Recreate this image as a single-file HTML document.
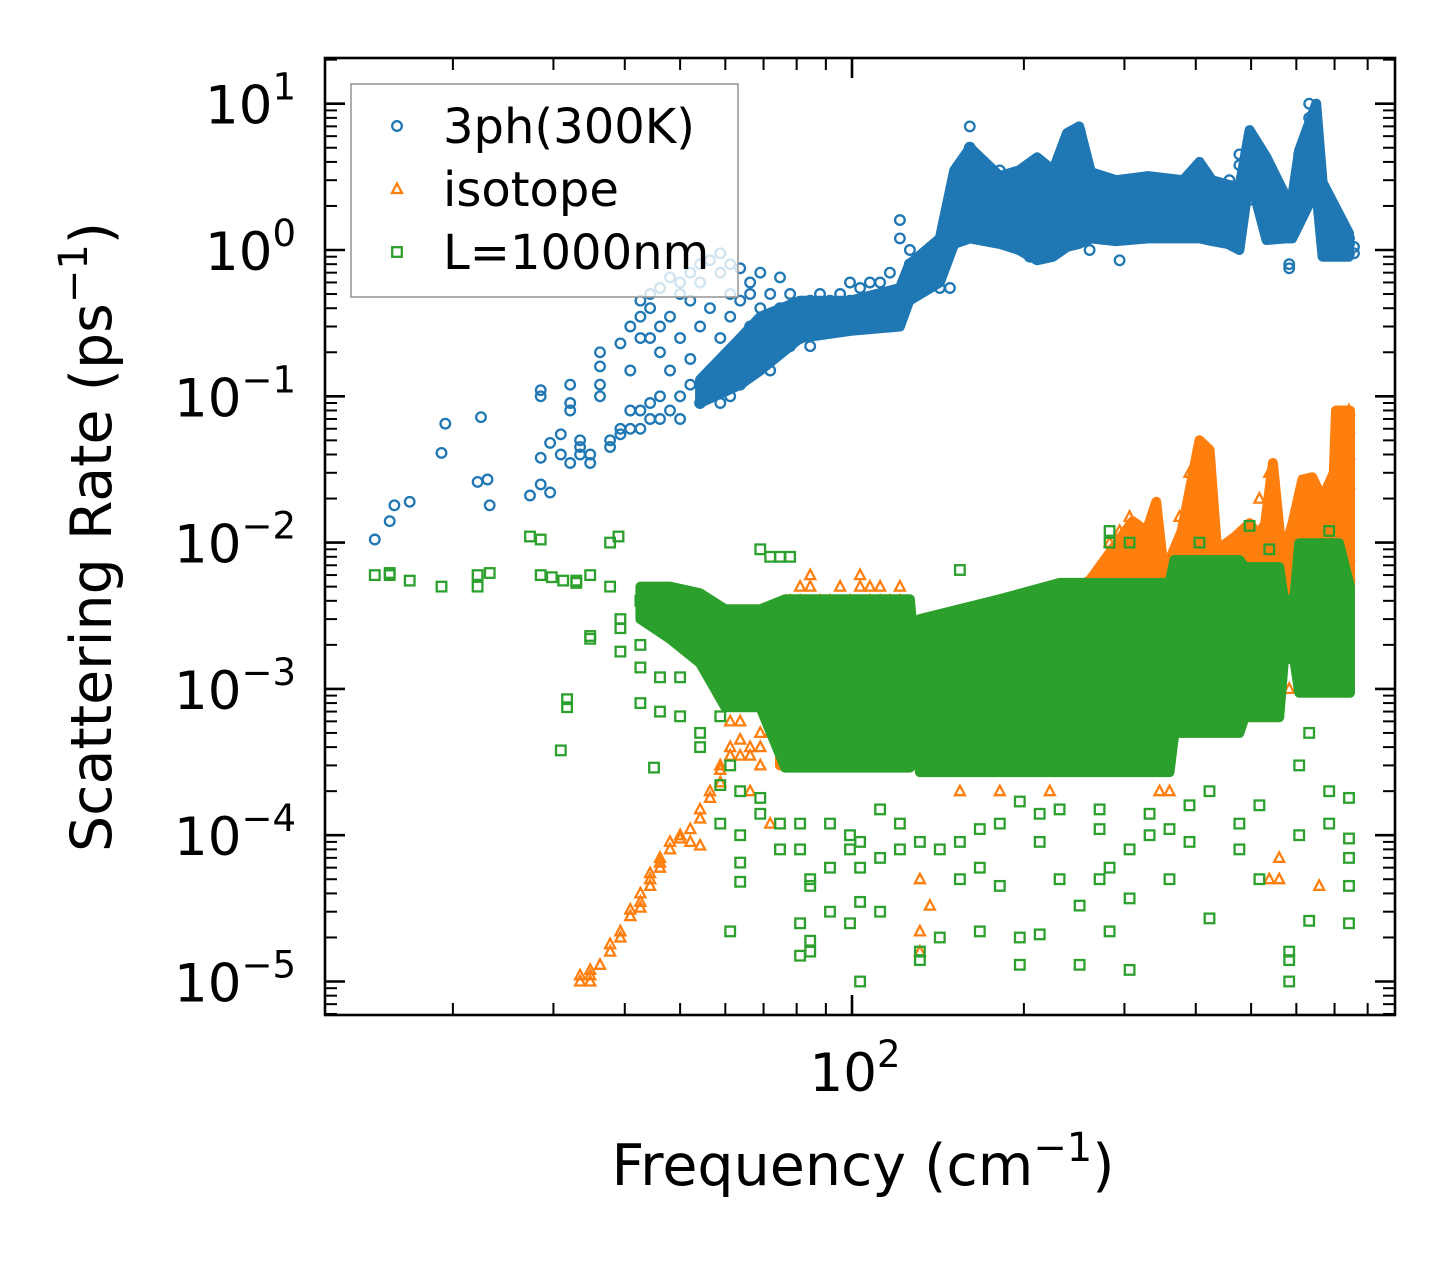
<!DOCTYPE html>
<html><head><meta charset="utf-8"><style>
html,body{margin:0;padding:0;background:#fff;}
svg{display:block;font-family:"DejaVu Sans","Liberation Sans",sans-serif;}
</style></head><body>
<svg id="chart" xmlns="http://www.w3.org/2000/svg" width="1455" height="1265" viewBox="0 0 1455 1265">
<rect x="0" y="0" width="1455" height="1265" fill="#fff"/>
<g id="plot"></g>
<g id="axes"></g>
<g id="legend"></g>
</svg>
<script>
// ---------- axis setup ----------
const xMajorTicks = [100];
const xMinorTicks = [20,30,40,50,60,70,80,90,200,300,400,500,600,700,800];
const yMajorExps = [1,0,-1,-2,-3,-4,-5];

// ---------- 3ph(300K): sparse points ----------
const ph3LowF = [14.6,15.5,15.8,16.8,19.1,19.4,22.1,22.4,23.0,23.2];
const ph3LowR = [0.0105,0.014,0.018,0.019,0.041,0.065,0.026,0.072,0.027,0.018];
// 3ph columns: frequency -> rates
const ph3F = [27.3,28.5,29.6,30.9,32.1,33.4,34.8,36.2,37.7,39.3,40.9,42.6,44.3,46.1,48.0,50.0,52.1,54.2,56.4,58.8,61.2,63.7,66.3,69.1,71.9,74.8,77.9,81.1,84.5,87.9,91.5,95.3,99.2,103.3,107.5,112,116.5,121.3,126.3,131.5,136.9,142.5,148.4,154.5,160.8,167.4,174.3,181.5,188.9,196.7,204.8,213.2,222,231,240.5,250.4,260.7,271.4,282.6,294.2,306.3,318.9,332,345.6,359.8,374.6,390,406,422.7,440,458,477,497,517,538,560,583,607,632,658,685,713,742,757];
const ph3R = [[0.021],[0.11,0.1,0.038,0.025],[0.048,0.022],[0.055,0.04],[0.12,0.09,0.08,0.035],[0.045,0.04,0.05],[0.035,0.04],[0.2,0.16,0.12,0.1],[0.05,0.045],[0.23,0.055,0.06],[0.15,0.3,0.06,0.08],[0.35,0.25,0.08,0.06,0.45],[0.5,0.4,0.09,0.07,0.25],[0.3,0.55,0.07,0.2,0.1],[0.65,0.15,0.35,0.08],[0.6,0.07,0.25,0.5,0.1],[0.7,0.12,0.18,0.45],[0.8,0.09,0.3,0.6,0.12],[0.15,0.85,0.4,0.1],[0.95,0.12,0.25,0.7,0.09],[0.1,0.5,0.13,0.35,0.8],[0.15,0.75,0.12,0.2,0.45],[0.14,0.3,0.6,0.17,0.5],[0.17,0.25,0.4,0.7,0.2],[0.2,0.5,0.22,0.3,0.15],[0.25,0.4,0.65,0.2,0.3],[0.28,0.35,0.5,0.22],[0.3,0.42,0.28,0.38,0.25],[0.3,0.45,0.33,0.22],[0.4,0.3,0.5,0.35],[0.35,0.28,0.45,0.3],[0.4,0.32,0.28,0.5],[0.45,0.3,0.35,0.6],[0.55,0.35,0.3,0.45],[0.4,0.6,0.35,0.3],[0.32,0.45,0.6,0.38],[0.38,0.5,0.3,0.7],[0.4,0.5,1.2,1.6,0.35],[0.6,0.8,1.0,0.5],[0.75,0.55,0.9],[0.9,0.7,0.6],[1.0,0.8,0.7,0.55],[1.3,0.55,2.0,1.6,1.0],[2.5,1.5,3.5,2.0,1.2],[7.0,5.0,2.0,1.4,3.0],[2.2,1.6,3.0,1.3,2.6],[2.5,3.2,2.0,1.5,1.2],[2.8,1.8,1.5,2.3,3.5],[2.2,3.0,1.6,1.3],[2.0,2.6,1.2,3.2,1.7],[1.7,2.4,3.0,0.9],[1.9,2.5,3.0,1.5],[3.5,2.2,1.7,2.8],[4.0,2.3,1.8,3.0],[6.0,5.0,2.5,1.9],[6.5,3.0,1.8,2.4],[2.5,2.0,1.0,2.9],[2.8,2.2,1.7,1.4],[2.4,3.0,1.8,2.0],[0.85,2.0,2.6,1.6],[1.9,2.3,2.8,1.5],[2.8,1.8,2.2,2.5],[2.2,2.5,1.8,2.9],[2.0,2.4,1.7,2.8],[1.9,2.6,2.2],[2.2,2.0,2.7,1.8],[2.5,1.9,2.2],[2.3,2.8,1.8,2.0],[2.1,2.5,1.9],[2.0,2.6,2.3],[3.0,2.4,2.0],[4.5,3.8,2.6,2.1],[6.0,5.5,3.2,2.2],[3.5,2.5,2.0],[1.8,2.2,2.0],[2.0,1.6,2.3],[1.4,0.8,0.75,1.8],[2.5,3.5,4.5,2.0],[6.0,8.0,10.0,3.0],[2.0,1.8,2.5],[1.5,1.3,1.8],[1.0,1.1,1.4],[0.95,1.1,1.2],[1.05,0.95]];
// 3ph dense core envelope
const ph3CoreF = [54.2,63.7,69.1,81.1,99.2,121.3,126,142.5,151,161,181.5,196,211,225,238,250,262,290,330,380,406,427,455,477,497,532,576,590,607,650,667,742];
const ph3CoreLo = [0.09,0.12,0.15,0.25,0.28,0.3,0.45,0.6,1.1,1.2,1.1,1.0,0.85,0.9,1.05,1.1,1.2,1.15,1.2,1.2,1.2,1.15,1.1,1.0,3.2,1.17,1.2,1.2,1.5,2.6,0.9,0.9];
const ph3CoreHi = [0.13,0.25,0.35,0.45,0.45,0.55,0.8,1.2,3.5,5,3.2,3.5,4.3,3.5,6.3,7,3.4,3.0,3.2,3.0,4.0,3.0,2.8,2.7,6.6,4.3,2.3,2.3,4.8,10,2.9,1.3];

// ---------- isotope ----------
const isoF = [33.4,34.8,36.2,37.7,39.3,40.9,42.6,44.3,46.1,48.0,50.0,52.1,54.2,56.4,58.8,61.2,63.7,66.3,69.1,71.9,74.8,77.9,81.1,84.5,87.9,91.5,95.3,99.2,103.3,107.5,112,116.5,121.3,126.3,131.5,136.9,154.5,181.5,222,260.7,282.6,294.2,306.3,318.9,345.6,359.8,374.6,390,406,422.7,440,497,517,538,560,583,607,632,658,685,713,742];
const isoR = [[1.1e-5,1.0e-5],[1.2e-5,1.0e-5,1.1e-5],[1.3e-5],[1.6e-5,1.8e-5],[2.2e-5,2.0e-5],[2.8e-5,3.1e-5],[3.5e-5,4.0e-5,3.2e-5],[5e-5,5.5e-5,4.5e-5],[6.5e-5,7e-5,6e-5],[8e-5,9e-5],[9.5e-5,1.0e-4],[1.1e-4,9e-5],[1.3e-4,1.5e-4,8.5e-5],[1.8e-4,2e-4],[2.3e-4,2.8e-4,3e-4],[3.5e-4,4e-4,6e-4],[3.5e-4,4.5e-4,1e-3,6e-4],[3.5e-4,4e-4,1.2e-3,2e-4],[4e-4,5e-4,1.5e-3,3e-4],[1.2e-4,1e-3,2e-3,5e-4],[2e-3,3e-3,1e-3],[3e-3,4e-3,2e-3],[4e-3,5e-3,3e-3],[5e-3,6e-3,3e-3],[4e-3,3e-3,2e-3],[3e-3,4e-3],[3e-3,2e-3,5e-3],[4e-3,3e-3],[5e-3,6e-3,3e-3],[5e-3,4e-3],[3e-3,5e-3,4e-3],[4e-3,3.5e-3,2e-3],[5e-3,4e-3,3e-3],[3e-3,2e-3,1e-3],[5e-5,2.2e-5,1.6e-5],[3.3e-5],[3e-4,2e-4],[2e-4,3e-4],[5e-4,2e-4],[3e-4],[4e-3,6e-3,1e-2],[8e-3,1.2e-2,5e-3],[1e-2,6e-3,1.5e-2,4e-3],[8e-3,5e-3],[3e-4,2e-4,5e-4],[5e-4,2e-4],[1e-2,1.5e-2,7e-3],[2e-2,3e-2,1.2e-2,8e-3],[4e-2,3e-2,1.5e-2,6e-3],[2e-2,1e-2,5e-3],[4e-3,3e-3],[1e-2,8e-3],[2e-2,1.2e-2,6e-3],[3e-2,1.5e-2,8e-3,5e-5],[5e-5,7e-5],[6e-3,3e-3,1e-3],[1.5e-2,8e-3,3e-3],[2.5e-2,1.8e-2,1e-2],[1.5e-2,2e-2,4.5e-5],[2e-2,1.2e-2],[2.5e-2,4e-2,3e-2],[8e-2,6e-2,4e-2,2.5e-2,8e-3,6e-3]];
const isoCoreF = [74.8,81.1,87.9,103.3,121.3,127,260.7,310,328,341,352,378,406,423,436,469,497,524,546,567,591,615,640,666,698,704,745];
const isoCoreLo = [3e-4,5e-4,5e-4,5e-4,5e-4,5e-4,2e-3,2e-3,2e-3,2e-3,2e-3,2e-3,2e-3,2e-3,2e-3,2e-3,2e-3,2e-3,2e-3,2e-3,2e-3,2e-3,2e-3,2e-3,3e-3,3e-3,3e-3];
const isoCoreHi = [2e-3,4e-3,3e-3,4e-3,4e-3,1.5e-3,5.5e-3,1.4e-2,1.2e-2,1.9e-2,6.2e-3,1.2e-2,5.0e-2,4.3e-2,8.9e-3,1.1e-2,1.36e-2,1.0e-2,3.5e-2,7.9e-3,1.36e-2,2.7e-2,2.8e-2,2.0e-2,3.0e-2,8.0e-2,8.0e-2];

// ---------- L=1000nm ----------
const bF = [14.6,15.5,16.8,19.1,22.1,23.2,27.3,28.5,29.8,30.9,31.2,31.7,32.9,34.8,37.7,39.0,39.3,42.6,45.0,46.1,50.0,54.2,58.8,61.2,63.7,69.1,71.9,74.8,77.9,81.1,84.5,91.5,99.2,103.3,112,121.3,131.5,142.5,154.5,167.4,181.5,196.7,213.2,231,250.4,271.4,282.6,306.3,332,359.8,390,406,422.7,477,497,517,538,583,607,632,685,742];
const bR = [[6e-3],[6e-3,6.2e-3],[5.5e-3],[5e-3],[6e-3,5e-3],[6.2e-3],[1.1e-2],[1.05e-2,6e-3],[5.8e-3],[3.8e-4],[5.5e-3],[8.5e-4,7.5e-4],[5.5e-3,5.3e-3],[6e-3,2.3e-3,2.2e-3],[1e-2,5e-3],[1.1e-2],[3e-3,2.6e-3,1.8e-3],[4e-3,2e-3,1.4e-3,8e-4],[2.9e-4],[3e-3,1.2e-3,7e-4],[6.5e-4,1.2e-3],[4e-4,5e-4],[6.5e-4,2.2e-4,1.2e-4],[2.2e-5,3e-4],[1e-4,6.5e-5,4.8e-5,2e-4],[1.8e-4,1.4e-4,9e-3],[8e-3],[1.2e-4,8e-5,8e-3],[8e-3],[8e-5,2.5e-5,1.5e-5,1.2e-4],[5e-5,1.9e-5,1.6e-5,4.5e-5],[3e-5,1.2e-4,6e-5],[8e-5,2.5e-5,1e-4],[9e-5,3.5e-5,1e-5,6e-5],[7e-5,3e-5,1.5e-4],[8e-5,1.2e-4],[1.4e-5,1.6e-5,9e-5],[2e-5,8e-5],[9e-5,5e-5,6.5e-3],[2.2e-5,6e-5,1.1e-4],[4.5e-5,1.2e-4],[1.3e-5,2e-5,1.7e-4],[2.1e-5,9e-5,1.4e-4],[5e-5,1.5e-4],[3.3e-5,1.3e-5],[1.1e-4,5e-5,1.5e-4],[2.2e-5,6e-5,1.2e-2,1e-2],[3.7e-5,1.2e-5,8e-5,1e-2],[1e-4,1.4e-4],[5e-5,1.1e-4],[9e-5,1.6e-4],[1e-2],[2.7e-5,2e-4],[8e-5,1.2e-4],[1.3e-2],[5e-5,1.6e-4],[9e-3],[1.6e-5,1.4e-5,1e-5],[1e-4,3e-4],[2.6e-5,5e-4],[2e-4,1.2e-4,1.2e-2,9e-3],[4.5e-5,2.5e-5,7e-5,9.5e-5,1.8e-4]];
const bCoreF = [42.6,48.0,54.2,60,69.1,76.4,99.2,126.3,129,131.5,181.5,231,359.8,367,477,487,560,571,595,607,713,745];
const bCoreLo = [3e-3,2.2e-3,1.5e-3,7.5e-4,7.5e-4,2.9e-4,2.9e-4,2.9e-4,5e-4,2.7e-4,2.7e-4,2.7e-4,2.7e-4,5e-4,5e-4,6.4e-4,6.4e-4,1.6e-3,1.6e-3,9.4e-4,9.4e-4,9.4e-4];
const bCoreHi = [5e-3,5e-3,4.5e-3,3.5e-3,3.5e-3,4.1e-3,4.1e-3,4.1e-3,1.6e-3,3.0e-3,4.1e-3,5.3e-3,5.3e-3,7.6e-3,7.6e-3,6.8e-3,6.8e-3,4.1e-3,4.1e-3,9.9e-3,9.9e-3,5e-3];

// ---------- scales ----------
const PL=325, PR=1395, PT=58, PB=1015;
function X(f){ return 852 + 571*(Math.log10(f)-2); }
function Y(r){ return 250 - 146.3*Math.log10(r); }
const NS="http://www.w3.org/2000/svg";
function mk(tag, attrs, parent){ const e=document.createElementNS(NS,tag); for(const k in attrs) e.setAttribute(k,attrs[k]); parent.appendChild(e); return e; }

const plot=document.getElementById('plot');
const clip=mk('clipPath',{id:'pc'},plot);
mk('rect',{x:PL,y:PT,width:PR-PL,height:PB-PT},clip);
const dataG=mk('g',{'clip-path':'url(#pc)'},plot);



const C3='#1f77b4', CI='#ff7f0e', CB='#2ca02c';

function core(F,Lo,Hi,color,name){
  const pts=[];
  for(let i=0;i<F.length;i++) pts.push(X(F[i]).toFixed(1)+','+Y(Hi[i]).toFixed(1));
  for(let i=F.length-1;i>=0;i--) pts.push(X(F[i]).toFixed(1)+','+Y(Lo[i]).toFixed(1));
  const p=mk('polygon',{points:pts.join(' '),fill:color,stroke:color,'stroke-width':10,'stroke-linejoin':'round'},dataG);
  
  
}
function marker(kind,x,y,color,name,parent){
  let e;
  if(kind==='o'){ e=mk('circle',{cx:x.toFixed(1),cy:y.toFixed(1),r:4.8,fill:'none',stroke:color,'stroke-width':2.3},parent); }
  else if(kind==='^'){ e=mk('polygon',{points:`${(x).toFixed(1)},${(y-5.5).toFixed(1)} ${(x+5).toFixed(1)},${(y+4).toFixed(1)} ${(x-5).toFixed(1)},${(y+4).toFixed(1)}`,fill:'none',stroke:color,'stroke-width':2.3},parent); }
  else { e=mk('rect',{x:(x-4.8).toFixed(1),y:(y-4.8).toFixed(1),width:9.6,height:9.6,fill:'none',stroke:color,'stroke-width':2.3},parent); }
  
  
  return e;
}
function series(F,R,kind,color,name){
  for(let i=0;i<F.length;i++){
    const rs=Array.isArray(R[i])?R[i]:[R[i]];
    for(const r of rs) marker(kind,X(F[i]),Y(r),color,name,dataG);
  }
}
// 3ph
core(ph3CoreF,ph3CoreLo,ph3CoreHi,C3,'3ph-dense-core');
series(ph3LowF,ph3LowR,'o',C3,'3ph-point');
series(ph3F,ph3R,'o',C3,'3ph-point');
// isotope
core(isoCoreF,isoCoreLo,isoCoreHi,CI,'isotope-dense-core');
series(isoF,isoR,'^',CI,'isotope-point');
// boundary
core(bCoreF,bCoreLo,bCoreHi,CB,'boundary-dense-core');
series(bF,bR,'s',CB,'boundary-point');

// ---------- axes ----------
const axes=document.getElementById('axes');
function line(x1,y1,x2,y2,w,name){ const l=mk('line',{x1,y1,x2,y2,stroke:'#000','stroke-width':w},axes);   return l; }
for(let d=-6; d<=1; d++){
  for(let m=1;m<=9;m++){
    const y=Y(m*Math.pow(10,d));
    if(y<PT||y>PB) continue;
    const len=(m===1)?20:12, w=(m===1)?2.6:2;
    line(PL,y,PL+len,y,w,m===1?'y-major-tick':'y-minor-tick');
    line(PR,y,PR-len,y,w,m===1?'y-major-tick-right':'y-minor-tick-right');
  }
}
for(const e of yMajorExps){
  const t=mk('text',{x:296,y:(Y(Math.pow(10,e))+20).toFixed(1),'text-anchor':'end','font-size':53,fill:'#000'},axes);
  
  
  t.appendChild(document.createTextNode('10'));
  const s=mk('tspan',{dy:-24,'font-size':37},t);
  s.textContent=(e<0?'\u2212':'')+Math.abs(e);
}
for(const f of xMinorTicks){ const x=X(f); line(x,PB,x,PB-12,2,'x-minor-tick'); line(x,PT,x,PT+12,2,'x-minor-tick-top'); }
for(const f of xMajorTicks){ const x=X(f); line(x,PB,x,PB-20,2.6,'x-major-tick'); line(x,PT,x,PT+20,2.6,'x-major-tick-top');
  const t=mk('text',{x:(x+3).toFixed(1),y:1091,'text-anchor':'middle','font-size':53,fill:'#000'},axes);
  
  
  t.appendChild(document.createTextNode('10'));
  const s=mk('tspan',{dy:-24,'font-size':37},t); s.textContent='2';
}
const frame=mk('rect',{x:PL,y:PT,width:PR-PL,height:PB-PT,fill:'none',stroke:'#000','stroke-width':2.6},axes);


const xt=mk('text',{x:863,y:1185,'text-anchor':'middle','font-size':57,fill:'#000'},axes);


xt.appendChild(document.createTextNode('Frequency (cm'));
const xs=mk('tspan',{dy:-24,'font-size':40},xt); xs.textContent='\u22121';
const xs2=mk('tspan',{dy:24},xt); xs2.textContent=')';
const yt=mk('text',{x:0,y:0,'text-anchor':'middle','font-size':57,fill:'#000',transform:'translate(111,537) rotate(-90)'},axes);


yt.appendChild(document.createTextNode('Scattering Rate (ps'));
const ys=mk('tspan',{dy:-24,'font-size':40},yt); ys.textContent='\u22121';
const ys2=mk('tspan',{dy:24},yt); ys2.textContent=')';

// ---------- legend ----------
const lg=document.getElementById('legend');
const box=mk('rect',{x:351,y:84,width:387,height:213,fill:'#fff','fill-opacity':0.8,stroke:'#999','stroke-width':1.6},lg);


const legLabels=['3ph(300K)','isotope','L=1000nm'];
const legKinds=['o','^','s'];
const legColors=[C3,CI,CB];
const legNames=['legend-entry-3ph','legend-entry-isotope','legend-entry-boundary'];
for(let i=0;i<3;i++){
  const cy=126+i*63;
  marker(legKinds[i],397,cy,legColors[i],legNames[i]+'-marker',lg);
  const t=mk('text',{x:443,y:cy+17,'font-size':48,fill:'#000'},lg);
  
  
  t.textContent=legLabels[i];
}
</script>
</body></html>
